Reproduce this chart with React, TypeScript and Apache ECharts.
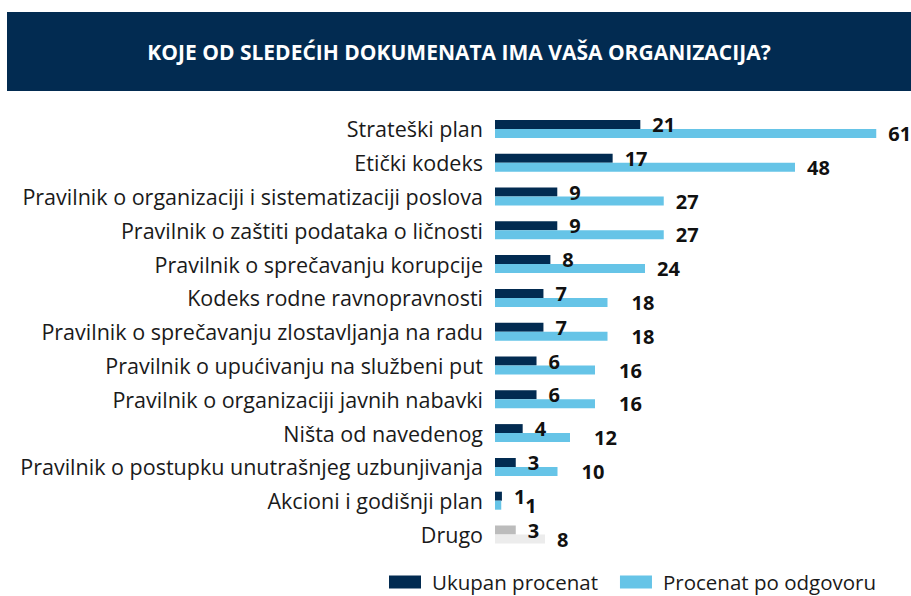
import React, { useEffect, useRef } from "react";
import * as echarts from "echarts";

const titleText = "KOJE OD SLEDEĆIH DOKUMENATA IMA VAŠA ORGANIZACIJA?";
const categories = [
  "Strateški plan",
  "Etički kodeks",
  "Pravilnik o organizaciji i sistematizaciji poslova",
  "Pravilnik o zaštiti podataka o ličnosti",
  "Pravilnik o sprečavanju korupcije",
  "Kodeks rodne ravnopravnosti",
  "Pravilnik o sprečavanju zlostavljanja na radu",
  "Pravilnik o upućivanju na službeni put",
  "Pravilnik o organizaciji javnih nabavki",
  "Ništa od navedenog",
  "Pravilnik o postupku unutrašnjeg uzbunjivanja",
  "Akcioni i godišnji plan",
  "Drugo",
];
const ukupanProcenat = [21, 17, 9, 9, 8, 7, 7, 6, 6, 4, 3, 1, 3];
const procenatPoOdgovoru = [61, 48, 27, 27, 24, 18, 18, 16, 16, 12, 10, 1, 8];
const seriesNames = ["Ukupan procenat", "Procenat po odgovoru"];
const otherCategory = "Drugo";

const FONT = "'Open Sans', 'Noto Sans', sans-serif";
const NAVY = "#022b51";
const LIGHT = "#66c4e7";

export default function App() {
  const ref = useRef<HTMLDivElement>(null);
  useEffect(() => {
    document.body.style.margin = "0";
    if (!ref.current) return;
    const chart = echarts.init(ref.current, undefined, { renderer: "svg" });
    const labelStyle = {
      show: true,
      position: "right" as const,
      fontSize: 20,
      fontWeight: "bold" as const,
      color: "#111111",
      fontFamily: FONT,
    };
    chart.setOption({
      animation: false,
      backgroundColor: "#ffffff",
      graphic: [
        {
          type: "rect",
          shape: { x: 7, y: 12, width: 904, height: 79 },
          style: { fill: NAVY },
          silent: true,
        },
        {
          type: "text",
          x: 459,
          y: 52,
          style: {
            text: titleText,
            fill: "#ffffff",
            font: `bold 21px ${FONT}`,
            textAlign: "center",
            textVerticalAlign: "middle",
          },
        },
      ],
      grid: { left: 495, width: 400, top: 112, height: 439.4 },
      xAxis: [
        { type: "value", min: 0, max: 57.8, show: false },
        { type: "value", min: 0, max: 64, show: false },
      ],
      yAxis: {
        type: "category",
        data: categories,
        inverse: true,
        axisLine: { show: false },
        axisTick: { show: false },
        splitLine: { show: false },
        axisLabel: { margin: 12, fontSize: 21.5, color: "#1a1a1a", fontFamily: FONT },
      },
      legend: {
        data: seriesNames,
        left: 389,
        top: 571,
        padding: 0,
        icon: "rect",
        itemWidth: 32,
        itemHeight: 13,
        itemGap: 22,
        textStyle: {
          fontSize: 20.5,
          lineHeight: 22,
          color: "#1a1a1a",
          fontFamily: FONT,
          padding: [0, 0, 0, 6],
        },
      },
      series: [
        {
          name: seriesNames[0],
          type: "bar",
          xAxisIndex: 0,
          barWidth: 9,
          barGap: "0%",
          itemStyle: { color: NAVY },
          label: { ...labelStyle, distance: 12 },
          data: ukupanProcenat.map((v, i) =>
            categories[i] === otherCategory ? { value: v, itemStyle: { color: "#bcbcbc" } } : v
          ),
        },
        {
          name: seriesNames[1],
          type: "bar",
          xAxisIndex: 1,
          barWidth: 9,
          barGap: "0%",
          itemStyle: { color: LIGHT },
          label: { ...labelStyle, distance: 12 },
          data: procenatPoOdgovoru.map((v, i) => {
            const isOther = categories[i] === otherCategory;
            return {
              value: v,
              itemStyle: isOther ? { color: "#ececec" } : undefined,
              label: { distance: v >= 20 || isOther ? 12 : 24 },
            };
          }),
        },
      ],
    });
    return () => chart.dispose();
  }, []);
  return <div ref={ref} style={{ width: 911, height: 596 }} />;
}
